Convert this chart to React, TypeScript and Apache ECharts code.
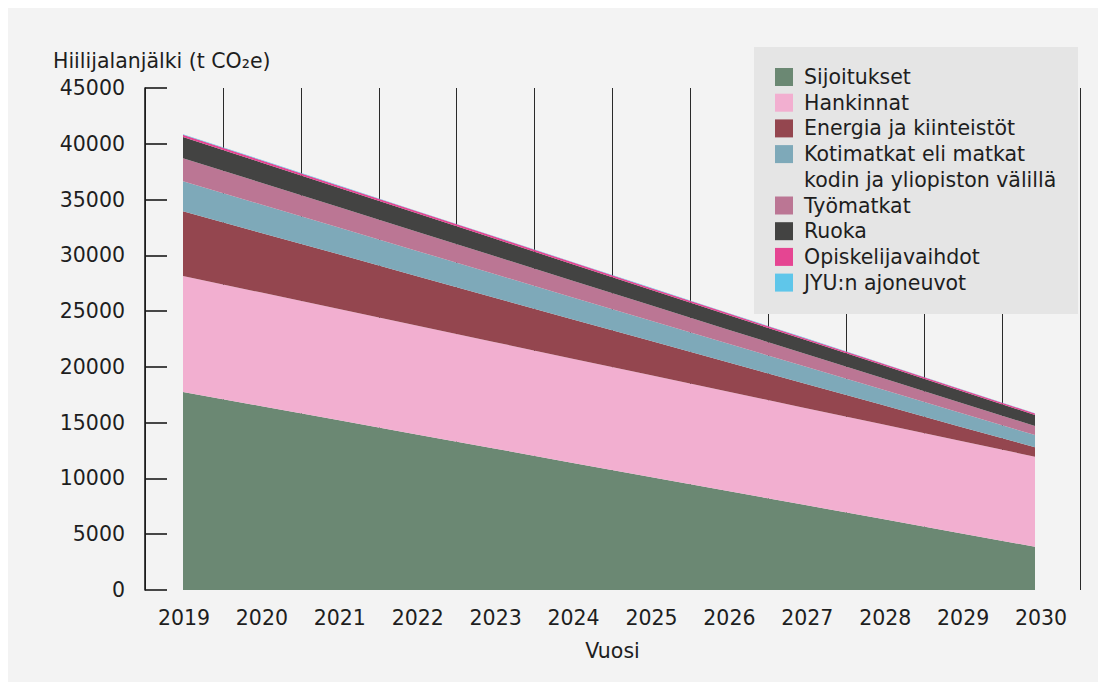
import React, { useEffect, useRef } from "react";
import * as echarts from "echarts";

// Years on the horizontal axis
const years = ["2019", "2020", "2021", "2022", "2023", "2024", "2025", "2026", "2027", "2028", "2029", "2030"];

// Emission sources (t CO2e per year), stacked bottom to top
const sijoitukset = [17750, 16490, 15230, 13970, 12710, 11440, 10180, 8920, 7660, 6400, 5140, 3880];
const hankinnat = [10400, 10190, 9980, 9760, 9550, 9340, 9130, 8920, 8710, 8500, 8280, 8070];
const energia = [5800, 5350, 4900, 4450, 3990, 3540, 3090, 2640, 2190, 1740, 1290, 840];
const kotimatkat = [2700, 2550, 2410, 2260, 2120, 1970, 1830, 1680, 1540, 1390, 1250, 1100];
const tyomatkat = [2060, 1950, 1830, 1720, 1610, 1490, 1380, 1260, 1150, 1040, 920, 810];
const ruoka = [1900, 1820, 1730, 1650, 1570, 1490, 1400, 1320, 1240, 1160, 1070, 990];
const opiskelijavaihdot = [200, 195, 190, 180, 175, 170, 160, 155, 150, 145, 135, 130];
const ajoneuvot = [40, 40, 38, 37, 35, 34, 32, 31, 30, 28, 27, 25];

const seriesNames = [
  "Sijoitukset",
  "Hankinnat",
  "Energia ja kiinteistöt",
  "Kotimatkat eli matkat\nkodin ja yliopiston välillä",
  "Työmatkat",
  "Ruoka",
  "Opiskelijavaihdot",
  "JYU:n ajoneuvot",
];
const seriesData = [sijoitukset, hankinnat, energia, kotimatkat, tyomatkat, ruoka, opiskelijavaihdot, ajoneuvot];
const seriesColors = ["#6b8873", "#f2afd0", "#94464f", "#7ea9b9", "#bb7694", "#434342", "#e54592", "#5fc6ea"];

const yTicks = [0, 5000, 10000, 15000, 20000, 25000, 30000, 35000, 40000, 45000];

const FONT = "DejaVu Sans";
const TEXT = "#1e1e1e";
const FS = 20.5;
const LEGEND_Z = 100;

function buildLegend() {
  const children: any[] = [
    {
      type: "rect",
      z: LEGEND_Z,
      shape: { x: 0, y: 0, width: 324, height: 267 },
      style: { fill: "#e5e5e5" },
    },
  ];
  let row = 0;
  const rowH = 25.7;
  seriesNames.forEach((name, i) => {
    const cy = 30 + row * rowH;
    children.push({
      type: "rect",
      z: LEGEND_Z + 1,
      shape: { x: 21, y: cy - 9, width: 18, height: 18 },
      style: { fill: seriesColors[i] },
    });
    const lines = name.split("\n");
    lines.forEach((ln, j) => {
      children.push({
        type: "text",
        z: LEGEND_Z + 1,
        x: 50,
        y: cy + j * rowH,
        style: {
          text: ln,
          fill: TEXT,
          font: `${FS}px "${FONT}"`,
          verticalAlign: "middle",
        },
      });
    });
    row += lines.length;
  });
  return { type: "group", left: 746, top: 39, z: LEGEND_Z, children };
}

export default function App() {
  const ref = useRef<HTMLDivElement>(null);

  useEffect(() => {
    if (!ref.current) return;
    const chart = echarts.init(ref.current, undefined, { renderer: "svg" });
    const yRange = {
      min: yTicks[0],
      max: yTicks[yTicks.length - 1],
      interval: yTicks[1] - yTicks[0],
    };
    chart.setOption({
      animation: false,
      backgroundColor: "#f3f3f3",
      textStyle: { fontFamily: FONT },
      grid: [
        // frame: year labels, year dividers and the value axis
        { left: 137, right: 18, top: 80, bottom: 92, containLabel: false },
        // plotting area for the stacked areas
        { left: 175, right: 63, top: 80, bottom: 92, containLabel: false },
      ],
      xAxis: [
        {
          type: "category",
          gridIndex: 0,
          data: years,
          boundaryGap: true,
          name: "Vuosi",
          nameLocation: "middle",
          nameGap: 50,
          nameTextStyle: { color: TEXT, fontSize: FS, fontFamily: FONT },
          axisLine: { show: false },
          axisTick: { show: false },
          axisLabel: { color: TEXT, fontSize: FS, fontFamily: FONT, margin: 17 },
          splitLine: { show: true, lineStyle: { color: "#2a2a2a", width: 1 } },
        },
        {
          type: "category",
          gridIndex: 1,
          data: years,
          boundaryGap: false,
          show: false,
        },
      ],
      yAxis: [
        {
          type: "value",
          gridIndex: 0,
          ...yRange,
          axisLine: { show: true, lineStyle: { color: "#1a1a1a", width: 1.6 } },
          axisTick: { show: true, inside: true, length: 22, lineStyle: { color: "#1a1a1a", width: 1.6 } },
          axisLabel: {
            color: TEXT,
            fontSize: FS,
            fontFamily: FONT,
            margin: 20,
            formatter: (v: number) => String(v),
          },
          splitLine: { show: false },
        },
        {
          type: "value",
          gridIndex: 1,
          ...yRange,
          show: false,
          splitLine: { show: false },
        },
      ],
      series: seriesNames.map((name, i) => ({
        name,
        type: "line",
        xAxisIndex: 1,
        yAxisIndex: 1,
        stack: "total",
        data: seriesData[i],
        symbol: "none",
        lineStyle: { width: 0 },
        areaStyle: { color: seriesColors[i], opacity: 1 },
        itemStyle: { color: seriesColors[i] },
        z: 3,
      })),
      graphic: [
        {
          type: "text",
          left: 45,
          top: 42,
          style: {
            text: "Hiilijalanjälki (t CO₂e)",
            fill: TEXT,
            font: `${FS}px "${FONT}"`,
          },
        },
        buildLegend(),
      ],
    });
    return () => chart.dispose();
  }, []);

  return <div ref={ref} style={{ width: 1090, height: 674 }} />;
}
